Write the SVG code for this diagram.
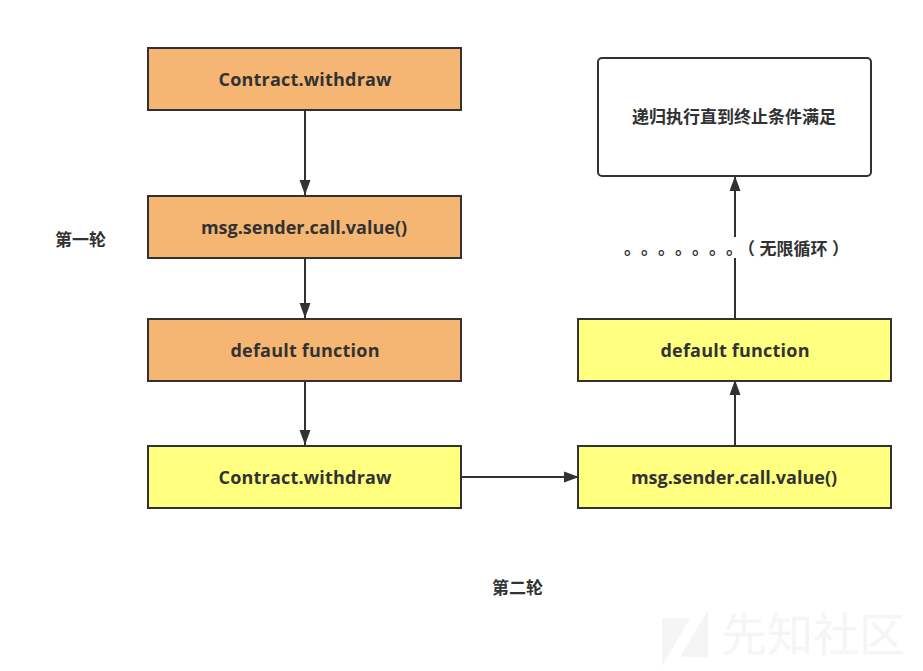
<svg xmlns="http://www.w3.org/2000/svg" width="923" height="671" viewBox="0 0 923 671">
<style>
text{font-family:"Open Sans","Noto Sans CJK SC",sans-serif;font-weight:700;fill:#323232;text-anchor:middle}
.l{font-size:18px}
.c{font-size:17px;font-family:"Noto Sans CJK SC",sans-serif}
.s{text-anchor:start}
.b{stroke:#323232;stroke-width:2}
.o{fill:#f6b673}
.y{fill:#ffff80}
.e{fill:none;stroke:#323232;stroke-width:2;marker-end:url(#a)}
</style>
<defs><marker id="a" markerUnits="userSpaceOnUse" markerWidth="16" markerHeight="12" refX="15" refY="6" orient="auto"><path d="M0 .5L15 6L0 11.500Z" fill="#323232"/></marker></defs>
<rect width="923" height="671" fill="#fff"/>
<g id="watermark">
<path d="M662 618H690L662 666Z M708 610V657H680Z" fill="#f5f5f5"/>
<text x="813" y="651" style="font-size:46px;font-weight:400;fill:#f5f5f5;font-family:'Noto Sans CJK SC',sans-serif">先知社区</text>
</g>
<g id="connectors">
<path class="e" d="M305 110V195"/>
<path class="e" d="M305 258V318"/>
<path class="e" d="M305 381V445"/>
<path class="e" d="M461 477H579"/>
<path class="e" d="M735 446V380"/>
<path class="e" d="M735 237V176"/>
<path d="M735 258V319" fill="none" stroke="#323232" stroke-width="2"/>
</g>
<g id="n1"><rect class="b o" x="148" y="48" width="313" height="62"/><text class="l" x="305" y="86" textLength="173">Contract.withdraw</text></g>
<g id="n2"><rect class="b o" x="148" y="196" width="313" height="62"/><text class="l" x="304" y="234">msg.sender.call.value()</text></g>
<g id="n3"><rect class="b o" x="148" y="319" width="313" height="62"/><text class="l" x="305" y="357" textLength="149">default function</text></g>
<g id="n4"><rect class="b y" x="148" y="446" width="313" height="62"/><text class="l" x="305" y="484" textLength="173">Contract.withdraw</text></g>
<g id="n5"><rect class="b y" x="578" y="446" width="313" height="62"/><text class="l" x="734" y="484">msg.sender.call.value()</text></g>
<g id="n6"><rect class="b y" x="578" y="319" width="313" height="62"/><text class="l" x="735" y="357" textLength="149">default function</text></g>
<g id="n7"><rect x="598" y="58" width="273" height="118" rx="4" fill="#fff" stroke="#323232" stroke-width="2"/><text class="c" x="734" y="123">递归执行直到终止条件满足</text></g>
<g id="label1"><text class="c" x="80.500" y="246">第一轮</text></g>
<g id="label2"><text class="c" x="517.500" y="594">第二轮</text></g>
<g id="label3"><rect x="620" y="237" width="226" height="21" fill="#fff"/><text class="c s" x="624 641 658 675 692 709 726 738 759.500 776.500 793.500 810.500 832" y="254 254 254 254 254 254 254 255 255 255 255 255 255">。。。。。。。（无限循环）</text></g>
</svg>
